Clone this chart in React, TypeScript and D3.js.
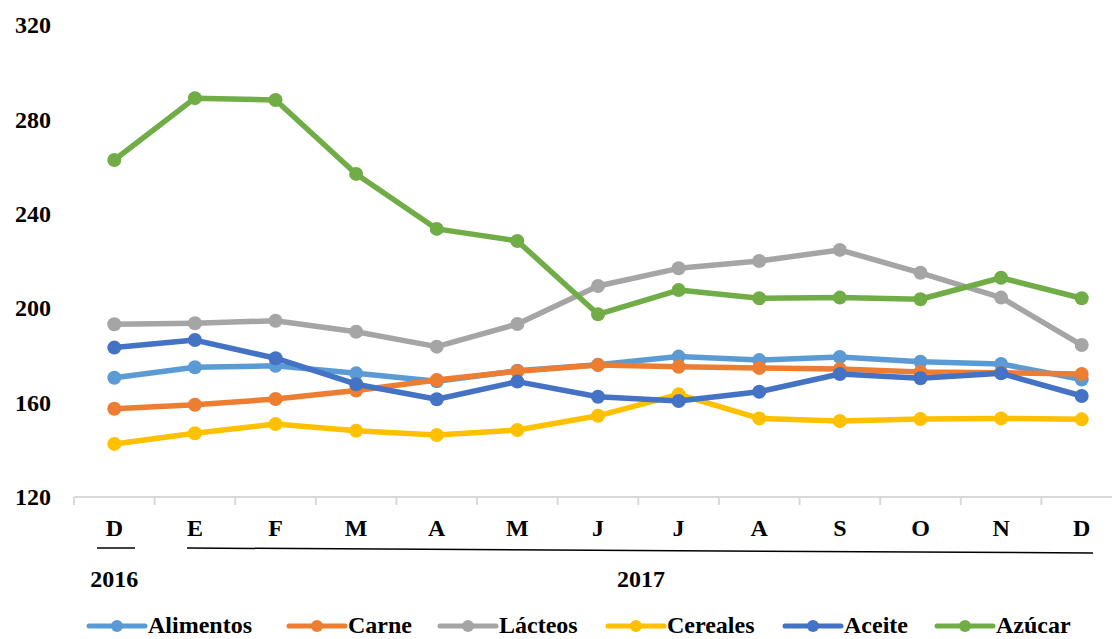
import React from "react";
import * as d3 from "d3";

const months = ["D", "E", "F", "M", "A", "M", "J", "J", "A", "S", "O", "N", "D"];
const yTicks = [120, 160, 200, 240, 280, 320];

const alimentos = [170.5, 175, 175.6, 172.4, 169, 173.5, 176, 179.5, 178, 179.3, 177.3, 176.4, 169.8];
const carne = [157.4, 159.1, 161.5, 165.1, 169.6, 173.3, 175.9, 175.2, 174.7, 174.2, 173, 172.7, 172.1];
const lacteos = [193.2, 193.6, 194.7, 190, 183.7, 193.3, 209.4, 216.9, 220, 224.7, 215, 204.5, 184.4];
const cereales = [142.5, 147, 150.9, 148.1, 146.3, 148.4, 154.4, 163.5, 153.3, 152.2, 153, 153.3, 152.9];
const aceite = [183.3, 186.5, 178.8, 167.8, 161.4, 168.9, 162.5, 160.7, 164.6, 172.1, 170.3, 172.4, 162.8];
const azucar = [262.8, 289, 288.2, 256.9, 233.6, 228.5, 197.4, 207.7, 204.2, 204.5, 203.8, 212.9, 204.2];

const seriesNames = ["Alimentos", "Carne", "Lácteos", "Cereales", "Aceite", "Azúcar"];
const seriesColors = ["#5B9BD5", "#ED7D31", "#A5A5A5", "#FFC000", "#4472C4", "#70AD47"];
const seriesValues = [alimentos, carne, lacteos, cereales, aceite, azucar];

const W = 1112;
const H = 639;
const font = "'Liberation Serif', 'Times New Roman', serif";

export default function App() {
  const idx = months.map((_, i) => i);
  const x = d3.scaleBand<number>().domain(idx).range([74, 1122]).padding(0);
  const y = d3.scaleLinear().domain([120, 320]).range([497, 25]);
  const cx = (i: number) => (x(i) as number) + x.bandwidth() / 2;

  const line = d3
    .line<number>()
    .x((_, i) => cx(i))
    .y((d) => y(d));

  // legend positions
  const legendX = [89, 289, 440, 608, 785, 937];

  return (
    <svg
      width={W}
      height={H}
      style={{ position: "absolute", left: 0, top: 0, background: "#fff" }}
      fontFamily={font}
      fontWeight="bold"
    >
      {/* y labels */}
      {yTicks.map((t) => (
        <text key={t} x={51} y={y(t)} dy="0.34em" textAnchor="end" fontSize={24} fill="#000">
          {t}
        </text>
      ))}

      {/* x axis */}
      <line x1={74} x2={1122} y1={y(120)} y2={y(120)} stroke="#D9D9D9" strokeWidth={2} />
      {d3.range(months.length + 1).map((i) => {
        const tx = i < months.length ? (x(i) as number) : 1122;
        return <line key={i} x1={tx} x2={tx} y1={y(120)} y2={y(120) + 8} stroke="#D9D9D9" strokeWidth={2} />;
      })}
      {months.map((m, i) => (
        <text key={i} x={cx(i)} y={536} textAnchor="middle" fontSize={24} fill="#000">
          {m}
        </text>
      ))}
      <line x1={97} x2={135} y1={548} y2={548} stroke="#000" strokeWidth={1.5} />
      <line x1={187} x2={1093} y1={548} y2={553} stroke="#000" strokeWidth={1.5} />
      <text x={cx(0)} y={587} textAnchor="middle" fontSize={24} fill="#000">
        2016
      </text>
      <text x={641} y={587} textAnchor="middle" fontSize={24} fill="#000">
        2017
      </text>

      {/* series */}
      {seriesValues.map((vals, s) => (
        <g key={s}>
          <path d={line(vals) as string} fill="none" stroke={seriesColors[s]} strokeWidth={5.5} strokeLinejoin="round" strokeLinecap="round" />
          {vals.map((v, i) => (
            <circle key={i} cx={cx(i)} cy={y(v)} r={7} fill={seriesColors[s]} />
          ))}
        </g>
      ))}

      {/* legend */}
      {seriesNames.map((n, s) => (
        <g key={n} transform={`translate(${legendX[s]},626)`}>
          <line x1={0} x2={56} y1={0} y2={0} stroke={seriesColors[s]} strokeWidth={5} strokeLinecap="round" />
          <circle cx={28} cy={0} r={6} fill={seriesColors[s]} />
          <text x={59} y={0} dy="0.3em" fontSize={24} fill="#000">
            {n}
          </text>
        </g>
      ))}
    </svg>
  );
}
